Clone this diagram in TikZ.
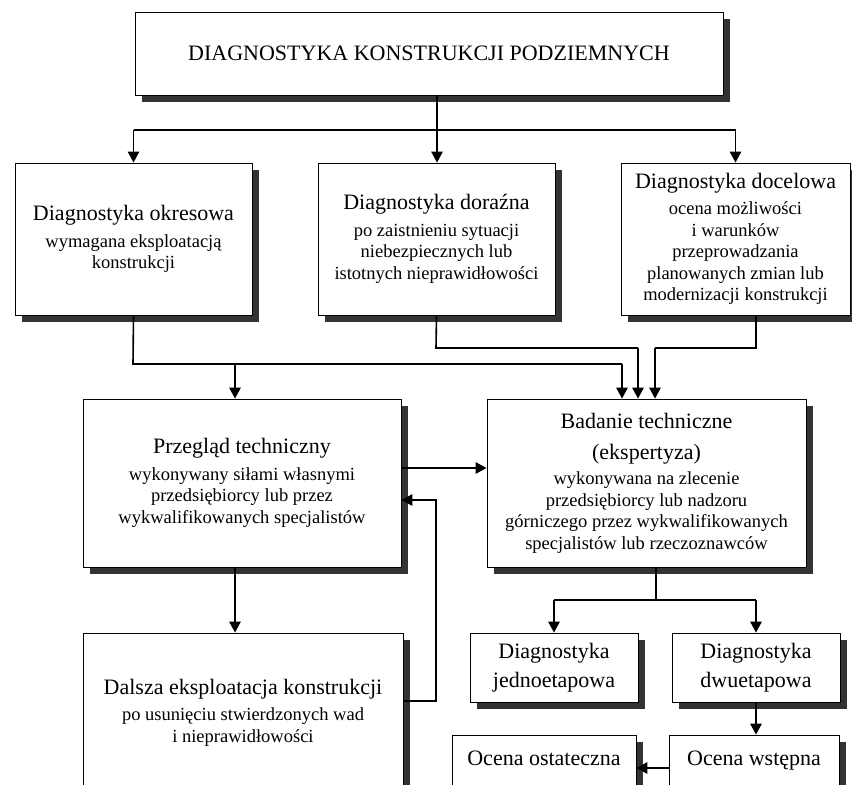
\documentclass[tikz,border=0pt]{standalone}
\usepackage{fontspec}
\setmainfont{Liberation Serif}
\usetikzlibrary{arrows.meta,shadows,calc}
\newcommand\BigT{\fontsize{22}{26}\selectfont}
\newcommand\SmT{\fontsize{18.5}{21.5}\selectfont}
\begin{document}
\begin{tikzpicture}[x=1pt,y=-1pt,
  box/.style={draw=black, line width=0.9pt, fill=white, align=center, inner sep=0pt,
    font=\SmT,
    drop shadow={shadow xshift=7pt, shadow yshift=-7pt, fill=black!80, opacity=1}},
  conn/.style={line width=1.6pt},
  arr/.style={conn, -{Triangle[length=11pt,width=11.5pt]}}]
\useasboundingbox (0,0) rectangle (852,785);
\clip (0,0) rectangle (852,785);
% boxes
\node[box, minimum width=588pt, minimum height=83pt] (top) at (429,53.5)
  {{\fontsize{22}{26}\selectfont DIAGNOSTYKA KONSTRUKCJI PODZIEMNYCH}};
\node[box, minimum width=237pt, minimum height=152pt] (b1) at (133.5,239)
  {{\BigT Diagnostyka okresowa}\\[5pt] wymagana eksploatacją\\ konstrukcji};
\node[box, minimum width=237pt, minimum height=152pt] (b2) at (436.5,239)
  {{\BigT Diagnostyka doraźna}\\[5pt] po zaistnieniu sytuacji\\ niebezpiecznych lub\\ istotnych nieprawidłowości};
\node[box, minimum width=229pt, minimum height=152pt] (b3) at (735.5,239)
  {{\BigT Diagnostyka docelowa}\\[5pt] ocena możliwości\\ i warunków\\ przeprowadzania\\ planowanych zmian lub\\ modernizacji konstrukcji};
\node[box, minimum width=318pt, minimum height=168pt] (prz) at (242,483)
  {{\BigT Przegląd techniczny}\\[5pt] wykonywany siłami własnymi\\ przedsiębiorcy lub przez\\ wykwalifikowanych specjalistów};
\node[box, minimum width=319pt, minimum height=168pt] (bad) at (646.5,483)
  {{\BigT Badanie techniczne}\\[10pt] {\BigT (ekspertyza)}\\[3.5pt] wykonywana na zlecenie\\ przedsiębiorcy lub nadzoru\\ górniczego przez wykwalifikowanych\\ specjalistów lub rzeczoznawców};
\node[box, minimum width=320pt, minimum height=159pt] (dal) at (243,712.5)
  {{\BigT Dalsza eksploatacja konstrukcji}\\[5pt] po usunięciu stwierdzonych wad\\ i nieprawidłowości};
\node[box, minimum width=168pt, minimum height=69pt, font=\fontsize{22}{29}\selectfont] (jed) at (554,667.5)
  {Diagnostyka\\ jednoetapowa};
\node[box, minimum width=168pt, minimum height=69pt, font=\fontsize{22}{29}\selectfont] (dwu) at (756,667.5)
  {Diagnostyka\\ dwuetapowa};
\node[box, minimum width=184pt, minimum height=51.5pt, font=\BigT, text height=15pt, text depth=5pt] (ost) at (544,760.75)
  {Ocena ostateczna};
\node[box, minimum width=170pt, minimum height=51.5pt, font=\BigT, text height=15pt, text depth=5pt] (wst) at (754,760.75)
  {Ocena wstępna};
% junction coordinates
\coordinate (j0) at (437,130);
\coordinate (j1) at (133,364);
\coordinate (j2) at (436,348);
\coordinate (j3) at (756,348);
\coordinate (j4) at (656,600);
\coordinate (fb) at (436,701);
% connectors from the top box
\draw[arr] (top.south -| j0) -- (j0 |- b2.north);
\draw[conn] (j0 -| b1.north) -- (j0 -| b3.north);
\draw[arr] (j0 -| b1.north) -- (b1.north);
\draw[arr] (j0 -| b3.north) -- (b3.north);
% to Przeglad and Badanie
\draw[conn] (b1.south) -- (j1) -- ($(j1 -| bad.north)+(-24.5,0)$);
\draw[arr] ($(j1 -| bad.north)+(-24.5,0)$) -- ($(bad.north)+(-24.5,0)$);
\draw[arr] (j1 -| 235,0) -- (prz.north -| 235,0);
\draw[conn] (b2.south) -- (j2) -- ($(j2 -| bad.north)+(-8.5,0)$);
\draw[arr] ($(j2 -| bad.north)+(-8.5,0)$) -- ($(bad.north)+(-8.5,0)$);
\draw[conn] (b3.south -| j3) -- (j3) -- ($(j3 -| bad.north)+(8.5,0)$);
\draw[arr] ($(j3 -| bad.north)+(8.5,0)$) -- ($(bad.north)+(8.5,0)$);
% Przeglad -> Badanie
\draw[arr] (prz.east |- 0,468) -- (bad.west |- 0,468);
% feedback Dalsza -> Przeglad
\draw[arr] (dal.east |- fb) -- (fb) -- (fb |- 0,500) -- (prz.east |- 0,500);
% Przeglad -> Dalsza
\draw[arr] (prz.south -| 235,0) -- (dal.north -| 235,0);
% Badanie -> one/two stage
\draw[conn] (bad.south -| j4) -- (j4);
\draw[conn] (j4 -| jed.north) -- (j4 -| dwu.north);
\draw[arr] (j4 -| jed.north) -- (jed.north);
\draw[arr] (j4 -| dwu.north) -- (dwu.north);
% dwuetapowa -> wstepna -> ostateczna
\draw[arr] (dwu.south) -- (dwu.south |- wst.north);
\draw[arr] (wst.west |- 0,768) -- (ost.east |- 0,768);
\end{tikzpicture}
\end{document}
